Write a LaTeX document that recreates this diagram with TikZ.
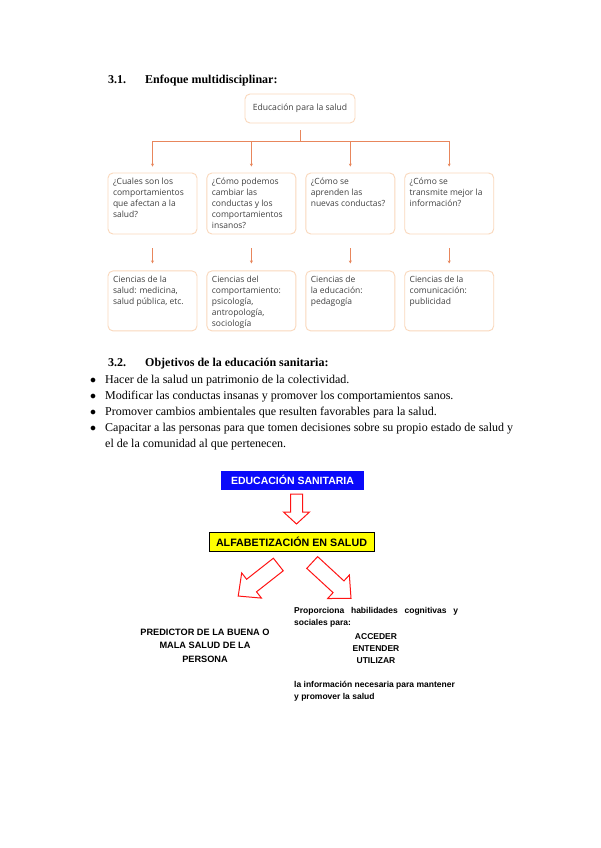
\documentclass[tikz,border=0pt]{standalone}
\usepackage{fontspec}
\setmainfont{Liberation Serif}
\newfontfamily\smartfont{Open Sans}
\newfontfamily\arialfont{Liberation Sans}
\usepackage{xcolor}
\definecolor{connorange}{RGB}{232,134, 92}
\definecolor{peach}{RGB}{250,216,188}
\definecolor{pureblue}{RGB}{ 10, 10,250}
\definecolor{pureyellow}{RGB}{255,255,  0}
\definecolor{arrowred}{RGB}{255, 20, 20}
\usepackage{tikz}
\usetikzlibrary{arrows.meta, positioning, calc}

% hollow block arrow: tail centre, angle, length, head length, half shaft, half head
\newcommand{\hollowarrow}[6]{%
  \begin{scope}[shift={#1}, rotate=#2]
    \draw[blockarr] (0,-#5) -- (#3-#4,-#5) -- (#3-#4,-#6) -- (#3,0)
      -- (#3-#4,#6) -- (#3-#4,#5) -- (0,#5) -- cycle;
  \end{scope}}

\begin{document}
\begin{tikzpicture}[x=1pt, y=-1pt,
  bodytext/.style={font=\fontsize{12}{14}\selectfont, inner sep=0pt},
  heading/.style={font=\bfseries\fontsize{12}{14}\selectfont, inner sep=0pt},
  topbox/.style={draw=peach, line width=0.9pt, rounded corners=5pt, fill=white,
                 minimum width=110pt, minimum height=29pt, text=black!75,
                 font=\smartfont\fontsize{8.6}{11}\selectfont},
  smartbox/.style={draw=peach, line width=0.9pt, rounded corners=5pt, inner sep=5pt,
               text=black!75, font=\smartfont\fontsize{8.5}{11}\selectfont,
               execute at begin node={\begin{minipage}[c][#1][t]{79pt}\raggedright},
               execute at end node={\end{minipage}}},
  qbox/.style={smartbox=51pt},
  cbox/.style={smartbox=50pt},
  conn/.style={draw=connorange, line width=0.9pt},
  tip/.style={-{Stealth[length=3pt, width=3pt]}},
  edubox/.style={fill=pureblue, text=white, inner sep=0pt,
                 minimum width=143pt, minimum height=19pt,
                 font=\arialfont\bfseries\fontsize{10.5}{12}\selectfont},
  alfabox/.style={draw=black, line width=0.8pt, fill=pureyellow, inner sep=0pt,
                  minimum width=165pt, minimum height=19pt,
                  font=\arialfont\bfseries\fontsize{10.7}{12}\selectfont},
  blockarr/.style={draw=arrowred, line width=1pt, fill=white, line join=miter},
  capsnote/.style={font=\arialfont\bfseries\fontsize{9.2}{13.5}\selectfont, inner sep=0pt},
  smallnote/.style={font=\arialfont\bfseries\fontsize{8.5}{12}\selectfont, inner sep=0pt}
]
  \useasboundingbox (0,0) rectangle (600,848);
  \fill[white] (0,0) rectangle (600,848);

  % ── 3.1 heading ──
  \node[heading, anchor=base west] (num1)  at (108,84) {3.1.};
  \node[heading, anchor=base west] (head1) at (145,84) {Enfoque multidisciplinar:};

  % ── Tree: root and questions ──
  \node[topbox] (educ) at (300,108.5) {Educación para la salud};
  \coordinate[below=18pt of educ] (hub);

  \node[qbox] (q1) at (152.5,203.5) {¿Cuales son los\\comportamientos\\que afectan a la\\salud?};
  \node[qbox, right=9pt of q1] (q2) {¿Cómo podemos\\cambiar las\\conductas y los\\comportamientos\\insanos?};
  \node[qbox, right=9pt of q2] (q3) {¿Cómo se\\aprenden las\\nuevas conductas?};
  \node[qbox, right=9pt of q3] (q4) {¿Cómo se\\transmite mejor la\\información?};

  % ── Tree: sciences ──
  \node[cbox, below=36pt of q1] (c1) {Ciencias de la\\salud: medicina,\\salud pública, etc.};
  \node[cbox, below=36pt of q2] (c2) {Ciencias del\\comportamiento:\\psicología,\\antropología,\\sociología};
  \node[cbox, below=36pt of q3] (c3) {Ciencias de\\la educación:\\pedagogía};
  \node[cbox, below=36pt of q4] (c4) {Ciencias de la\\comunicación:\\publicidad};

  % ── Tree: connectors ──
  \draw[conn, shorten <=7pt] (educ) -- (hub);
  \draw[conn, line width=1.4pt, line cap=rect] (q1.north |- hub) -- (q4.north |- hub);
  \foreach \n in {q1,q2,q3,q4}
    \draw[conn, tip, shorten >=6pt] (\n.north |- hub) -- (\n.north);
  \foreach \n/\m in {q1/c1,q2/c2,q3/c3,q4/c4}
    \draw[conn, tip, shorten <=14pt, shorten >=7pt] (\n) -- (\m);

  % ── 3.2 heading and objectives ──
  \node[heading, anchor=base west] (num2)  at (108,366) {3.2.};
  \node[heading, anchor=base west] (head2) at (145,366) {Objetivos de la educación sanitaria:};
  \node[bodytext, anchor=base west] (b1) at (90,383) {\makebox[15pt][l]{$\bullet$}Hacer de la salud un patrimonio de la colectividad.};
  \node[bodytext, anchor=base west] (b2) at (90,399) {\makebox[15pt][l]{$\bullet$}Modificar las conductas insanas y promover los comportamientos sanos.};
  \node[bodytext, anchor=base west] (b3) at (90,415) {\makebox[15pt][l]{$\bullet$}Promover cambios ambientales que resulten favorables para la salud.};
  \node[bodytext, anchor=base west] (b4) at (90,431) {\makebox[15pt][l]{$\bullet$}Capacitar a las personas para que tomen decisiones sobre su propio estado de salud y};
  \node[bodytext, anchor=base west] (b4b) at (105,447) {el de la comunidad al que pertenecen.};

  % ── Health literacy scheme ──
  \node[edubox]  (sanit) at (292.5,480)   {EDUCACIÓN SANITARIA};
  \node[alfabox] (alfa)  at (291.5,541.5) {ALFABETIZACIÓN EN SALUD};

  \hollowarrow{(296.5,494)}{-90}{30}{12}{6}{13}
  \hollowarrow{(278.3,564.5)}{218.2}{51}{17}{8}{16}
  \hollowarrow{(312.2,562.5)}{-42.7}{52.8}{17}{8}{16}

  \node[capsnote, align=center] (pred) at (205,645.5) {PREDICTOR DE LA BUENA O\\MALA SALUD DE LA\\PERSONA};
  \node[smallnote, anchor=north west, text width=164pt, align=justify] (prop) at (294,607)
    {Proporciona habilidades cognitivas y\linebreak sociales para:};
  \node[smallnote, align=center] (verbs) at (376,649) {ACCEDER\\ENTENDER\\UTILIZAR};
  \node[smallnote, anchor=north west, align=left] (info) at (294,681)
    {la información necesaria para mantener\\y promover la salud};
\end{tikzpicture}
\end{document}
